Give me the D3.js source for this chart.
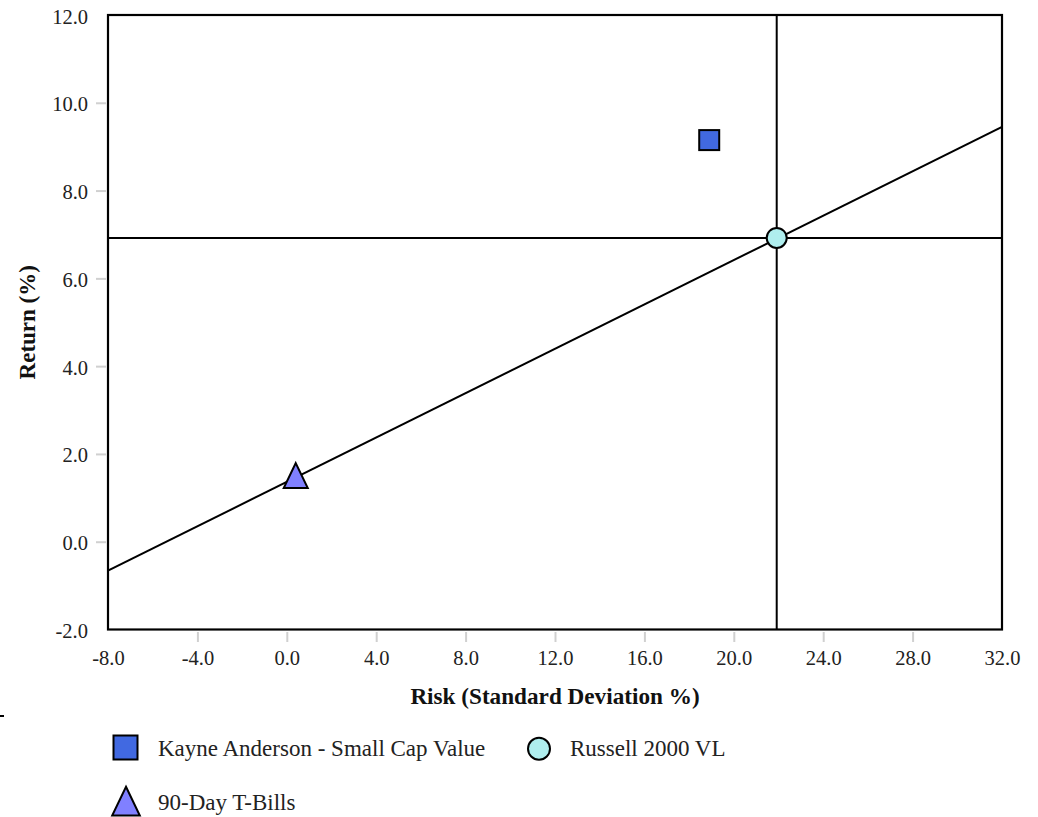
<!DOCTYPE html>
<html>
<head>
<meta charset="utf-8">
<script src="https://cdn.jsdelivr.net/npm/d3@7"></script>
<style>
  html, body { margin: 0; padding: 0; background: #fff; }
  svg { display: block; font-family: "Liberation Serif", "DejaVu Serif", serif; }
</style>
</head>
<body>
<svg id="chart" width="1038" height="817"></svg>
<script>
// ---- data ----
const seriesNames = ["Kayne Anderson - Small Cap Value", "Russell 2000 VL", "90-Day T-Bills"];
const riskValues = [18.9, 21.92, 0.4];
const returnValues = [9.15, 6.92, 1.45];
const xTicks = [-8, -4, 0, 4, 8, 12, 16, 20, 24, 28, 32];
const yTicks = [-2, 0, 2, 4, 6, 8, 10, 12];
const cmlRisk = [-8, 32];
const cmlReturn = [-0.66, 9.45];
const benchmarkIndex = 1;

// ---- layout ----
const svg = d3.select("#chart");
const L = 108, R = 1002, T = 15, B = 629.5;
const x = d3.scaleLinear().domain([-8, 32]).range([L, R]);
const y = d3.scaleLinear().domain([-2, 12]).range([B, T]);
const fmt = d => d3.format(".1f")(d).replace("\u2212", "-");

// ticks (gray, outside), omitted at the frame ends
const xAxis = d3.axisBottom(x).tickValues(xTicks).tickSize(10).tickFormat(fmt);
const gx = svg.append("g").attr("transform", `translate(0,${B + 2.5})`).call(xAxis);
gx.select(".domain").remove();
gx.selectAll(".tick line").attr("stroke", "#d0d0d0").attr("stroke-width", 2)
  .style("display", d => (d === -8 || d === 32) ? "none" : null);
gx.selectAll(".tick text").attr("font-size", 20.5).attr("fill", "#222")
  .attr("font-family", "Liberation Serif").attr("dy", null).attr("y", 33);

const yAxis = d3.axisLeft(y).tickValues(yTicks).tickSize(10).tickFormat(fmt);
const gy = svg.append("g").attr("transform", `translate(${L - 2},0)`).call(yAxis);
gy.select(".domain").remove();
gy.selectAll(".tick line").attr("stroke", "#d0d0d0").attr("stroke-width", 2)
  .style("display", d => (d === -2 || d === 12) ? "none" : null);
gy.selectAll(".tick text").attr("font-size", 20.5).attr("fill", "#222")
  .attr("font-family", "Liberation Serif").attr("dy", null)
  .attr("x", 88 - (L - 2)).attr("y", 8);

// clip for lines inside the plot
svg.append("clipPath").attr("id", "plotclip")
  .append("rect").attr("x", L).attr("y", T).attr("width", R - L).attr("height", B - T);

const plot = svg.append("g").attr("clip-path", "url(#plotclip)");

// capital market line
plot.append("line")
  .attr("x1", x(cmlRisk[0])).attr("y1", y(cmlReturn[0]))
  .attr("x2", x(cmlRisk[1])).attr("y2", y(cmlReturn[1]))
  .attr("stroke", "#000").attr("stroke-width", 2);

// benchmark crosshair
plot.append("line")
  .attr("x1", x(riskValues[benchmarkIndex])).attr("x2", x(riskValues[benchmarkIndex]))
  .attr("y1", T).attr("y2", B).attr("stroke", "#000").attr("stroke-width", 2);
plot.append("line")
  .attr("x1", L).attr("x2", R)
  .attr("y1", y(returnValues[benchmarkIndex])).attr("y2", y(returnValues[benchmarkIndex]))
  .attr("stroke", "#000").attr("stroke-width", 2);

// frame
svg.append("rect").attr("x", L).attr("y", T).attr("width", R - L).attr("height", B - T)
  .attr("fill", "none").attr("stroke", "#000").attr("stroke-width", 2.2);

// markers
const colors = ["#4169E1", "#AFEEEE", "#8080FF"];
function drawMarker(g, i, cx, cy, scale) {
  if (i === 0) {
    const s = 20 * scale;
    g.append("rect").attr("x", cx - s / 2).attr("y", cy - s / 2).attr("width", s).attr("height", s)
      .attr("fill", colors[0]).attr("stroke", "#000").attr("stroke-width", 2);
  } else if (i === 1) {
    g.append("circle").attr("cx", cx).attr("cy", cy).attr("r", 10 * scale)
      .attr("fill", colors[1]).attr("stroke", "#000").attr("stroke-width", 2);
  } else {
    const w = 12 * scale, hTop = 15 * scale, hBot = 10 * scale;
    g.append("path")
      .attr("d", `M${cx},${cy - hTop}L${cx + w},${cy + hBot}L${cx - w},${cy + hBot}Z`)
      .attr("fill", colors[2]).attr("stroke", "#000").attr("stroke-width", 2).attr("stroke-linejoin", "miter");
  }
}
const markers = svg.append("g");
seriesNames.forEach((n, i) => drawMarker(markers, i, x(riskValues[i]), y(returnValues[i]), 1));

// axis titles
svg.append("text").attr("x", (L + R) / 2).attr("y", 704).attr("text-anchor", "middle")
  .attr("font-size", 23.2).attr("font-weight", "bold").attr("fill", "#111")
  .text("Risk (Standard Deviation %)");
svg.append("text").attr("transform", `translate(35,${(T + B) / 2}) rotate(-90)`)
  .attr("text-anchor", "middle").attr("font-size", 23).attr("font-weight", "bold").attr("fill", "#111")
  .text("Return (%)");

// small dash at left
svg.append("line").attr("x1", 0).attr("x2", 4).attr("y1", 716).attr("y2", 716)
  .attr("stroke", "#000").attr("stroke-width", 2);

// legend
const legendPos = [
  { mx: 125.5, my: 747.5, tx: 158, ty: 756 },
  { mx: 539, my: 748.8, tx: 570, ty: 756 },
  { mx: 126, my: 803, tx: 158, ty: 810 }
];
const legend = svg.append("g");
seriesNames.forEach((n, i) => {
  const p = legendPos[i];
  if (i === 0) drawMarker(legend, i, p.mx, p.my, 1.2);
  else if (i === 1) drawMarker(legend, i, p.mx, p.my, 1.1);
  else drawMarker(legend, i, p.mx, p.my + 1, 1.15);
  legend.append("text").attr("x", p.tx).attr("y", p.ty).attr("font-size", 23).attr("fill", "#222")
    .text(n);
});
</script>
</body>
</html>
